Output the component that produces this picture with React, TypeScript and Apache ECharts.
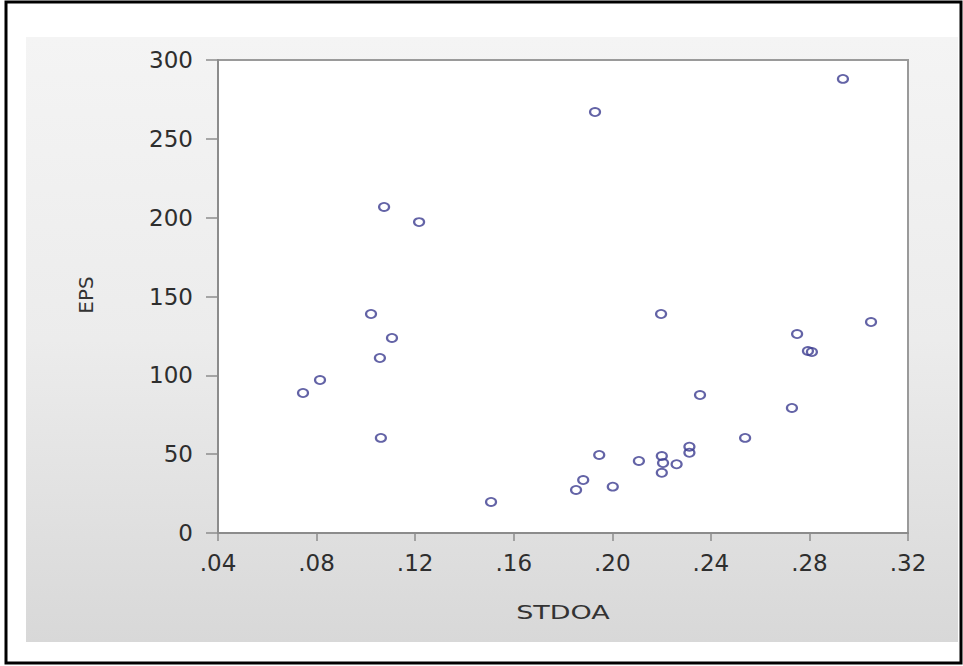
import React, { useEffect, useRef } from "react";
import * as echarts from "echarts";

const stdoa = [
  0.0745, 0.0814, 0.1021, 0.1074, 0.1057, 0.1106, 0.1061, 0.1216, 0.1508,
  0.1853, 0.1882, 0.1930, 0.1947, 0.2002, 0.2108, 0.2198, 0.2201, 0.2206,
  0.2201, 0.2261, 0.2313, 0.2313, 0.2356, 0.2539, 0.2729, 0.2750, 0.2794,
  0.2810, 0.2936, 0.3050,
];
const eps = [
  88.8, 97.0, 138.9, 206.8, 111.0, 123.7, 60.3, 197.2, 19.7,
  27.3, 33.6, 267.0, 49.5, 29.4, 45.7, 138.9, 48.8, 44.4,
  38.2, 43.6, 54.7, 50.9, 87.5, 60.3, 79.3, 126.2, 115.4,
  114.8, 288.0, 133.8,
];
const xTicks = [0.04, 0.08, 0.12, 0.16, 0.2, 0.24, 0.28, 0.32];
const yTicks = [0, 50, 100, 150, 200, 250, 300];
const xTitle = "STDOA";
const yTitle = "EPS";

const FONT = "DejaVu Sans";

export default function App() {
  const ref = useRef<HTMLDivElement>(null);
  useEffect(() => {
    if (!ref.current) return;
    const chart = echarts.init(ref.current, undefined, { renderer: "svg" });
    const points = stdoa.map((x, i) => [x, eps[i]]);
    const fmtX = (v: number) => {
      const s = v.toFixed(2);
      return s.startsWith("0") ? s.slice(1) : s;
    };
    chart.setOption({
      animation: false,
      backgroundColor: "#ffffff",
      graphic: [
        {
          type: "rect",
          z: -10,
          shape: { x: 6, y: 2, width: 955, height: 661 },
          style: { fill: "#ffffff", stroke: "#000000", lineWidth: 3 },
          silent: true,
        },
        {
          type: "rect",
          z: -9,
          shape: { x: 26, y: 37, width: 932, height: 605 },
          style: {
            fill: new echarts.graphic.LinearGradient(0, 0, 0, 1, [
              { offset: 0, color: "#f4f4f4" },
              { offset: 0.5, color: "#ececec" },
              { offset: 1, color: "#d8d8d8" },
            ]),
          },
          silent: true,
        },
        {
          type: "text",
          x: 563,
          y: 612,
          scaleX: 1.35,
          style: {
            text: xTitle,
            font: `20px "${FONT}"`,
            fill: "#333333",
            align: "center",
            verticalAlign: "middle",
          },
        },
        {
          type: "text",
          x: 86,
          y: 295,
          rotation: Math.PI / 2,
          style: {
            text: yTitle,
            font: `20px "${FONT}"`,
            fill: "#333333",
            align: "center",
            verticalAlign: "middle",
          },
        },
      ],
      grid: {
        left: 218,
        top: 60,
        width: 690,
        height: 473,
        show: true,
        backgroundColor: "#ffffff",
        borderColor: "#9a9a9a",
        borderWidth: 2,
        z: 0,
      },
      xAxis: {
        type: "value",
        min: xTicks[0],
        max: xTicks[xTicks.length - 1],
        interval: 0.04,
        axisLine: { show: true, lineStyle: { color: "#8c8c8c", width: 2 } },
        axisTick: { show: true, length: 8, lineStyle: { color: "#8c8c8c", width: 1.5 } },
        splitLine: { show: false },
        axisLabel: {
          margin: 18,
          color: "#2e2e2e",
          fontFamily: FONT,
          fontSize: 23,
          formatter: (v: number) => fmtX(v),
        },
      },
      yAxis: {
        type: "value",
        min: yTicks[0],
        max: yTicks[yTicks.length - 1],
        interval: 50,
        axisLine: { show: true, lineStyle: { color: "#8c8c8c", width: 2 } },
        axisTick: { show: true, length: 12, lineStyle: { color: "#8c8c8c", width: 1.5 } },
        splitLine: { show: false },
        axisLabel: {
          margin: 25,
          color: "#2e2e2e",
          fontFamily: FONT,
          fontSize: 23,
        },
      },
      series: [
        {
          type: "scatter",
          data: points,
          symbol: "circle",
          symbolSize: [10, 8],
          itemStyle: {
            color: "rgba(255,255,255,0)",
            borderColor: "#3c3c90",
            borderWidth: 2,
          },
        },
      ],
    });
    return () => chart.dispose();
  }, []);
  return (
    <div
      ref={ref}
      style={{ position: "fixed", left: 0, top: 0, width: 963, height: 666 }}
    />
  );
}
